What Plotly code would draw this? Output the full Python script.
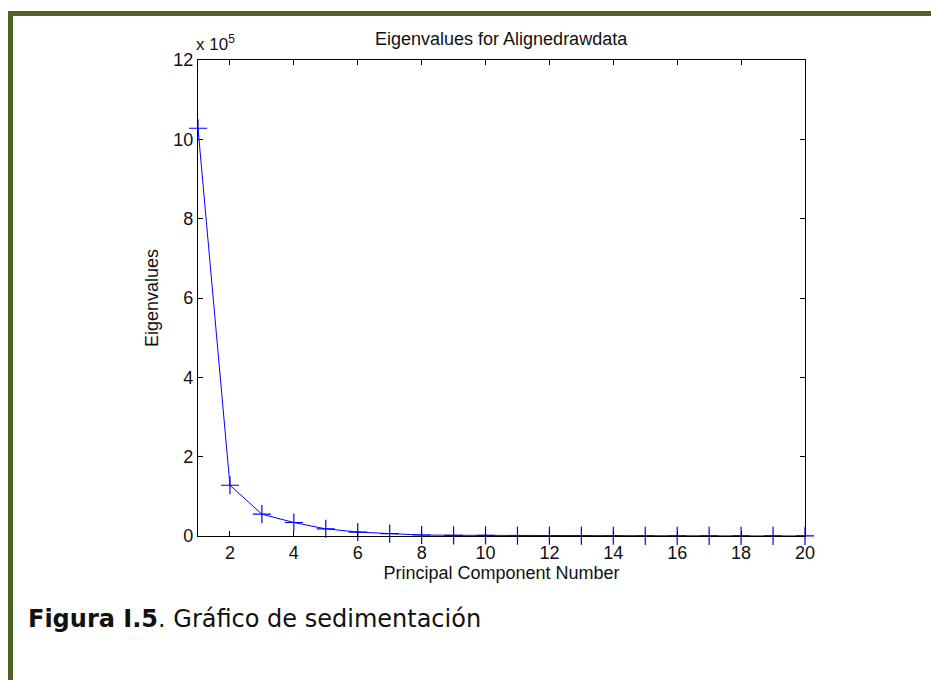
import plotly.graph_objects as go

components = list(range(1, 21))
eigenvalues = [10.28e5, 1.28e5, 0.55e5, 0.34e5, 0.18e5, 0.10e5, 0.06e5, 0.025e5,
               0.018e5, 0.014e5, 0.011e5, 0.009e5, 0.007e5, 0.006e5, 0.005e5,
               0.004e5, 0.003e5, 0.002e5, 0.0015e5, 0.001e5]
scale = 1e5
y_scaled = [v / scale for v in eigenvalues]
x_ticks = [2, 4, 6, 8, 10, 12, 14, 16, 18, 20]
y_ticks = [0, 2, 4, 6, 8, 10, 12]

W, H = 931, 680
L, R, T, B = 198, 805, 60, 536
pw, ph = R - L, B - T

def px(x):
    return (x - L) / pw

def py(y):
    return (B - y) / ph

FONT = "Arial, Liberation Sans"
fig = go.Figure()
fig.add_trace(go.Scatter(
    x=components, y=y_scaled, mode="lines+markers",
    line=dict(color="#0000ff", width=1),
    marker=dict(symbol="cross-thin", size=13, line=dict(color="#0000ff", width=1.2)),
    showlegend=False, cliponaxis=False,
))

axis_common = dict(
    showline=True, linecolor="black", linewidth=1.3, mirror="ticks",
    ticks="inside", ticklen=5, tickcolor="black", tickwidth=1,
    showgrid=False, zeroline=False,
    tickfont=dict(family=FONT, size=18, color="#111"),
)

fig.update_layout(
    width=W, height=H,
    margin=dict(l=L, r=W - R, t=T, b=H - B),
    paper_bgcolor="white", plot_bgcolor="white",
    xaxis=dict(range=[1, 20], tickvals=x_ticks, **axis_common,
               title=dict(text="Principal Component Number", standoff=1,
                          font=dict(family=FONT, size=18, color="#111"))),
    yaxis=dict(range=[0, 12], tickvals=y_ticks, **axis_common,
               title=dict(text="Eigenvalues", standoff=9,
                          font=dict(family=FONT, size=18, color="#111"))),
    shapes=[
        dict(type="rect", xref="paper", yref="paper",
             x0=px(8), x1=px(931), y0=py(16), y1=py(11),
             fillcolor="#4f6228", line=dict(width=0)),
        dict(type="rect", xref="paper", yref="paper",
             x0=px(8), x1=px(13), y0=py(680), y1=py(11),
             fillcolor="#4f6228", line=dict(width=0)),
    ],
    annotations=[
        dict(text="Eigenvalues for Alignedrawdata", xref="paper", yref="paper",
             x=0.5, y=py(39), xanchor="center", yanchor="middle", showarrow=False,
             font=dict(family=FONT, size=18, color="#111")),
        dict(text="x 10<sup>5</sup>", xref="paper", yref="paper",
             x=px(194), y=py(56), xanchor="left", yanchor="bottom", showarrow=False,
             font=dict(family=FONT, size=17, color="#111")),
        dict(text="<b>Figura I.5</b>. Gráfico de sedimentación", xref="paper", yref="paper",
             x=px(26), y=py(619), xanchor="left", yanchor="middle", showarrow=False,
             font=dict(family="DejaVu Sans", size=24, color="#111")),
    ],
)

fig.write_html("out.html")
